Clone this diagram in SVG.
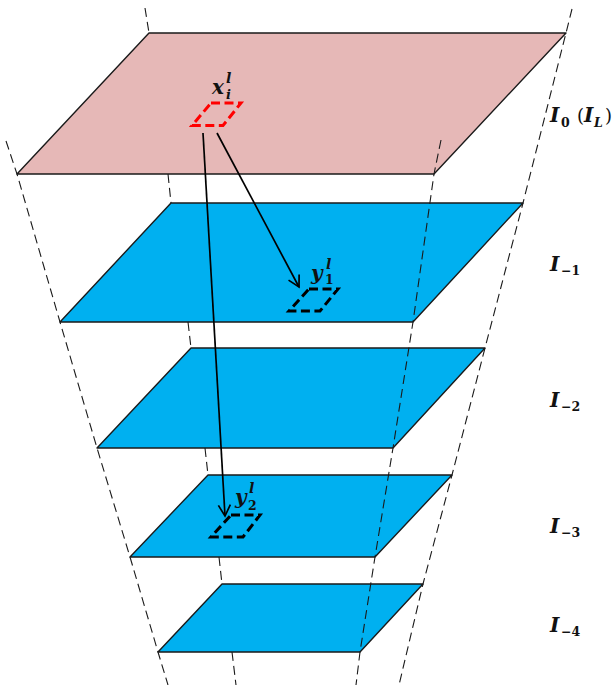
<svg xmlns="http://www.w3.org/2000/svg" width="615" height="685" viewBox="0 0 615 685">
<style>
.plane{stroke:#1a1a1a;stroke-width:1.4;stroke-linejoin:round}
.blue{fill:#00b0f0}
.pink{fill:#e6b8b7}
.guide{fill:none;stroke:#1a1a1a;stroke-width:1.1;stroke-dasharray:9 5}
.patch{fill:none;stroke-width:3;stroke-dasharray:9 4.5;stroke:#000}
.arrow{fill:none;stroke:#000;stroke-width:1.7;marker-end:url(#head)}
text{font-family:"DejaVu Serif","Liberation Serif",serif;font-weight:bold;fill:#111}
.m{font-style:italic;font-size:20px}
.s{font-size:12.5px}
.si{font-size:14px;font-style:italic}
.sub{font-size:13px;font-style:italic}
.p{font-size:18px;font-weight:normal}
</style>
<defs>
<marker id="head" markerUnits="userSpaceOnUse" markerWidth="16" markerHeight="16" refX="12" refY="7" orient="auto">
<path d="M1 1L12 7L1 13" fill="none" stroke="#000" stroke-width="1.7"/>
</marker>
</defs>
<g id="plane-0"><path class="plane pink" d="M149 33H566L434 174H17Z"/></g>
<g id="plane-1"><path class="plane blue" d="M171 203H523L413 322H60Z"/></g>
<g id="plane-2"><path class="plane blue" d="M191 348H485L393 448H97Z"/></g>
<g id="plane-3"><path class="plane blue" d="M208 475H452L375 557H130Z"/></g>
<g id="plane-4"><path class="plane blue" d="M222 584H423L360 652H158Z"/></g>
<g id="connectors">
<path class="guide" d="M6 141L17 174L60 322L97 448L130 557L158 652L168 685"/>
<path class="guide" d="M145 8L149 33"/>
<path class="guide" d="M168 174L171 203"/>
<path class="guide" d="M188 322L191 348"/>
<path class="guide" d="M205 448L208 475"/>
<path class="guide" d="M219 557L222 584"/>
<path class="guide" d="M232 652L236 685"/>
<path class="guide" d="M572 9L566 33L523 203L485 348L452 475L423 584L399 685"/>
<path class="guide" d="M441 140L434 174L413 322L393 448L375 557L360 652L356 685"/>
<path class="arrow" d="M217 133L299 287"/>
<path class="arrow" d="M203 133L225 516"/>
</g>
<g id="patch-x"><path class="patch" style="stroke:#f00" d="M211 103H241L223 125.500H192Z"/>
<text x="212" y="94" class="m">x</text><text x="226" y="83" class="si">l</text><text x="226" y="99" class="sub">i</text></g>
<g id="patch-y1"><path class="patch" d="M309 289H338L320 311H289Z"/>
<text x="311" y="280" class="m">y</text><text x="326" y="269" class="si">l</text><text x="325" y="284" class="s">1</text></g>
<g id="patch-y2"><path class="patch" d="M231 515H260L243 537H211Z"/>
<text x="235" y="504" class="m">y</text><text x="249" y="493" class="si">l</text><text x="248" y="510" class="s">2</text></g>
<g id="label-0"><text x="550" y="122" class="m">I</text><text x="561" y="127" class="s">0</text><text x="577" y="122" class="p">(</text><text x="584" y="122" class="m">I</text><text x="594" y="127" class="si" style="font-size:12.5px">L</text><text x="605" y="122" class="p">)</text></g>
<g id="label-1"><text x="550" y="271" class="m">I</text><text x="561" y="275" class="s">−1</text></g>
<g id="label-2"><text x="550" y="407" class="m">I</text><text x="561" y="411" class="s">−2</text></g>
<g id="label-3"><text x="550" y="533" class="m">I</text><text x="561" y="537" class="s">−3</text></g>
<g id="label-4"><text x="550" y="632" class="m">I</text><text x="561" y="636" class="s">−4</text></g>
</svg>
